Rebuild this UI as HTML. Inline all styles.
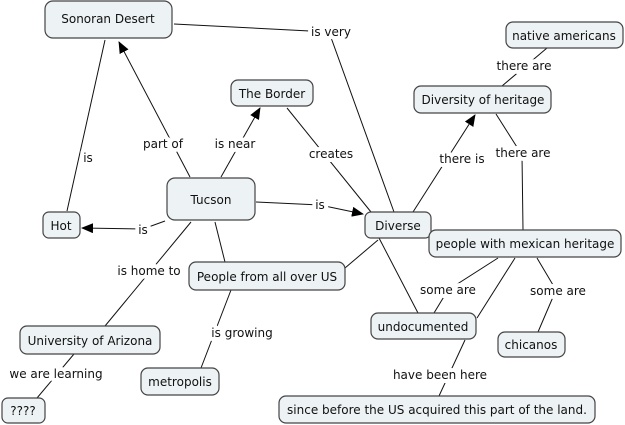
<!DOCTYPE html>
<html><head><meta charset="utf-8"><style>
html,body{margin:0;padding:0;background:#fff;width:625px;height:425px;overflow:hidden}
svg{display:block}
text{font-family:"DejaVu Sans","Liberation Sans",sans-serif;font-size:12px;fill:#111}
.n{fill:#edf2f4;stroke:#444;stroke-width:1.2}
.l{stroke:#111;stroke-width:1;fill:none}
.lb{paint-order:stroke;stroke:#fff;stroke-width:8px;stroke-linejoin:round}
</style></head><body>
<svg width="625" height="425" viewBox="0 0 625 425">
<defs><marker id="a" markerWidth="12" markerHeight="10" refX="11" refY="5" orient="auto" markerUnits="userSpaceOnUse"><path d="M0,0 L12,5 L0,10 z" fill="#000"/></marker></defs>
<g class="l">
<polyline points="174,24 329,32 394,212"/>
<line x1="105" y1="40" x2="67" y2="211"/>
<line x1="190" y1="177" x2="119" y2="42" marker-end="url(#a)"/>
<line x1="221" y1="177" x2="260" y2="108" marker-end="url(#a)"/>
<line x1="287" y1="108" x2="371" y2="212"/>
<polyline points="256,202 320,205 363,214" marker-end="url(#a)"/>
<polyline points="165,221 143,229 82,228" marker-end="url(#a)"/>
<line x1="191" y1="222" x2="105" y2="326"/>
<line x1="215" y1="222" x2="225" y2="262"/>
<line x1="231" y1="290" x2="201" y2="368"/>
<line x1="74" y1="354" x2="37" y2="398"/>
<line x1="413" y1="212" x2="475" y2="115" marker-end="url(#a)"/>
<polyline points="496,114 522,155 523,230"/>
<line x1="502" y1="86" x2="547" y2="48"/>
<line x1="345" y1="268" x2="378" y2="240"/>
<line x1="379" y1="238" x2="418" y2="313"/>
<polyline points="498,258 448,290 434,313"/>
<line x1="515" y1="258" x2="477" y2="318"/>
<line x1="465" y1="340" x2="439" y2="396"/>
<polyline points="537,258 556,290 538,332"/>
</g>
<g>
<rect class="n" x="45" y="1" width="127" height="37" rx="8"/>
<rect class="n" x="231" y="80" width="82" height="26" rx="7"/>
<rect class="n" x="167" y="178" width="88" height="42" rx="8"/>
<rect class="n" x="43" y="212" width="37" height="26" rx="6"/>
<rect class="n" x="365" y="212" width="66" height="26" rx="6"/>
<rect class="n" x="429" y="230" width="192" height="27" rx="7"/>
<rect class="n" x="414" y="86" width="137" height="27" rx="7"/>
<rect class="n" x="506" y="22" width="117" height="26" rx="7"/>
<rect class="n" x="189" y="262" width="156" height="28" rx="7"/>
<rect class="n" x="20" y="326" width="140" height="28" rx="7"/>
<rect class="n" x="141" y="368" width="78" height="27" rx="7"/>
<rect class="n" x="2" y="398" width="43" height="25" rx="6"/>
<rect class="n" x="371" y="313" width="105" height="26" rx="7"/>
<rect class="n" x="498" y="332" width="67" height="25" rx="7"/>
<rect class="n" x="279" y="396" width="316" height="27" rx="7"/>
</g>
<g text-anchor="middle">
<text x="108" y="23">Sonoran Desert</text>
<text x="272" y="98">The Border</text>
<text x="211" y="204">Tucson</text>
<text x="61" y="230">Hot</text>
<text x="398" y="230">Diverse</text>
<text x="525" y="248">people with mexican heritage</text>
<text x="483" y="104">Diversity of heritage</text>
<text x="564" y="40">native americans</text>
<text x="267" y="281">People from all over US</text>
<text x="90" y="345">University of Arizona</text>
<text x="180" y="386">metropolis</text>
<text x="23" y="415">????</text>
<text x="423" y="331">undocumented</text>
<text x="531" y="349">chicanos</text>
<text x="437" y="414">since before the US acquired this part of the land.</text>
</g>
<g text-anchor="middle" class="lb">
<text x="331" y="36">is very</text>
<text x="88" y="162">is</text>
<text x="163" y="148">part of</text>
<text x="235" y="148">is near</text>
<text x="331" y="158">creates</text>
<text x="320" y="209">is</text>
<text x="143" y="234">is</text>
<text x="149" y="275">is home to</text>
<text x="242" y="337">is growing</text>
<text x="56" y="378">we are learning</text>
<text x="462" y="163">there is</text>
<text x="523" y="157">there are</text>
<text x="524" y="70">there are</text>
<text x="448" y="294">some are</text>
<text x="558" y="295">some are</text>
<text x="440" y="379">have been here</text>
</g>
</svg>
</body></html>
